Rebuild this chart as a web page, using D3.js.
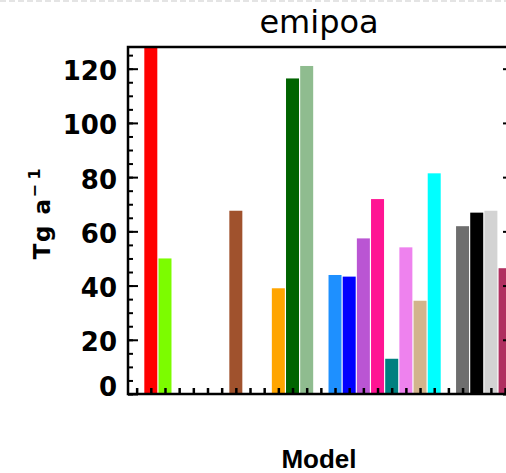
<!DOCTYPE html>
<html>
<head>
<meta charset="utf-8">
<script src="https://cdn.jsdelivr.net/npm/d3@7"></script>
<style>
  body { margin: 0; background: #fff; }
  svg { display: block; }
  text { font-family: "DejaVu Sans", sans-serif; fill: #000; }
</style>
</head>
<body>
<script>
const W = 506, H = 473;

// model slots along the x axis (no labels on the original axis)
const models = d3.range(27).map(i => 'M' + i);
// emipoa, Tg a-1 (null = no bar for that model)
const values = [null, 140, 50.0, null, null, null, null, 67.6, null, null, 39.0, 116.4, 121.0,
                null, 43.9, 43.3, 57.4, 71.9, 13.0, 54.1, 34.4, 81.4, null, 61.9, 66.9, 67.6, 46.4];
const colors = [null, '#ff0000', '#7cfc00', null, null, null, null, '#a0522d', null, null, '#ffa500', '#006400', '#8fbc8f',
                null, '#1e90ff', '#0000ff', '#ba55d3', '#ff1493', '#008080', '#ee82ee', '#d2b48c', '#00ffff', null, '#6e6e6e', '#000000', '#d3d3d3', '#b03060'];
const yMajor = [0, 20, 40, 60, 80, 100, 120];
const yMinor = d3.range(0, 128, 5);

const pLeft = 128, pRight = 513, pTop = 47, pBottom = 394;

const svg = d3.select('body').append('svg')
    .attr('width', W)
    .attr('height', H);

// faint dashed border of the screenshot at the very top
svg.append('line')
    .attr('x1', 0).attr('x2', W).attr('y1', 1).attr('y2', 1)
    .attr('stroke', '#e4e4e4').attr('stroke-width', 2)
    .attr('stroke-dasharray', '6,3');

const x = d3.scaleLinear().domain([-0.61, 26.56]).range([pLeft, pRight]);
const y = d3.scaleLinear().domain([0, 128]).range([pBottom, pTop]);

svg.append('clipPath').attr('id', 'plot')
  .append('rect')
    .attr('x', pLeft).attr('y', pTop)
    .attr('width', pRight - pLeft).attr('height', pBottom - pTop);

const bars = models.map((m, i) => ({ model: m, idx: i, value: values[i], color: colors[i] }))
                   .filter(d => d.value !== null);

const bw = 13;
svg.append('g')
    .attr('clip-path', 'url(#plot)')
  .selectAll('rect')
    .data(bars)
    .enter()
      .append('rect')
        .attr('x', d => x(d.idx) - bw / 2)
        .attr('y', d => y(d.value))
        .attr('width', bw)
        .attr('height', d => y(0) - y(d.value))
        .attr('fill', d => d.color);

// minor ticks
svg.append('g')
    .attr('transform', `translate(${pLeft},0)`)
    .call(d3.axisLeft(y).tickValues(yMinor).tickSize(-5).tickFormat(''))
    .call(g => g.select('.domain').remove())
    .call(g => g.selectAll('line').attr('stroke-width', 2));
svg.append('g')
    .attr('transform', `translate(${pRight},0)`)
    .call(d3.axisRight(y).tickValues(yMinor).tickSize(-5).tickFormat(''))
    .call(g => g.select('.domain').remove())
    .call(g => g.selectAll('line').attr('stroke-width', 2));

// major ticks + labels
const yAxis = svg.append('g')
    .attr('transform', `translate(${pLeft},0)`)
    .call(d3.axisLeft(y).tickValues(yMajor).tickSize(-10).tickPadding(11))
    .call(g => g.select('.domain').remove())
    .call(g => g.selectAll('line').attr('stroke-width', 2));
yAxis.selectAll('text')
    .style('font-size', '26px')
    .style('font-weight', 'bold')
    .attr('dy', d => d === 0 ? '0.05em' : '0.42em');

svg.append('g')
    .attr('transform', `translate(${pRight},0)`)
    .call(d3.axisRight(y).tickValues(yMajor).tickSize(-10).tickFormat(''))
    .call(g => g.select('.domain').remove())
    .call(g => g.selectAll('line').attr('stroke-width', 2));

svg.append('g')
    .attr('transform', `translate(0,${pBottom})`)
    .call(d3.axisBottom(x).tickValues(d3.range(models.length)).tickSize(-6).tickFormat(''))
    .call(g => g.select('.domain').remove())
    .call(g => g.selectAll('line').attr('stroke-width', 2.5));

// frame
svg.append('rect')
    .attr('x', pLeft).attr('y', pTop)
    .attr('width', pRight - pLeft).attr('height', pBottom - pTop)
    .attr('fill', 'none').attr('stroke', '#000').attr('stroke-width', 2.5);

svg.append('text')
    .attr('x', 319).attr('y', 33)
    .attr('text-anchor', 'middle')
    .style('font-size', '32px')
    .text('emipoa');

svg.append('text')
    .attr('x', 319).attr('y', 468)
    .attr('text-anchor', 'middle')
    .style('font-family', '"Liberation Sans", sans-serif')
    .style('font-size', '26px')
    .style('font-weight', 'bold')
    .text('Model');

const yl = svg.append('text')
    .attr('transform', 'translate(50,213) rotate(-90)')
    .attr('text-anchor', 'middle')
    .style('font-size', '23px')
    .style('font-weight', 'bold')
    .style('letter-spacing', '1.5px');
yl.append('tspan').text('Tg a');
yl.append('tspan').attr('dy', -10).style('font-size', '16px').text('\u2212\u200a1');
</script>
</body>
</html>
